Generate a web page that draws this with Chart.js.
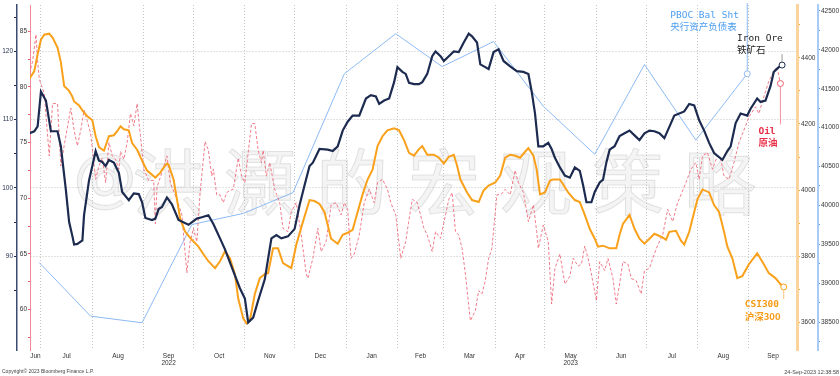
<!DOCTYPE html>
<html>
<head>
<meta charset="utf-8">
<script src="https://cdn.jsdelivr.net/npm/chart.js@4.4.0/dist/chart.umd.min.js"></script>
<style>
  html, body { margin: 0; padding: 0; background: #fff; }
  canvas { display: block; }
</style>
</head>
<body>
<canvas id="chart" width="840" height="376"></canvas>
<script>
// x values are days counted from 1 Jun 2022
var monthStarts = [30, 61, 92, 122, 153, 183, 214, 245, 273, 304, 334, 365, 395, 426, 457];
var monthNames = ['Jun', 'Jul', 'Aug', 'Sep', 'Oct', 'Nov', 'Dec', 'Jan', 'Feb', 'Mar', 'Apr', 'May', 'Jun', 'Jul', 'Aug', 'Sep'];
var yearUnder = { 3: '2022', 11: '2023' };
var xMin = 23.4, xMax = 486;

// Iron Ore (left outer axis)
var ironDays = [23,26,28,30,33,36,40,42,45,47, 49,50,52,55,56,59,61,63,65,67,
  69,71,74,77,79,83,86,89,91,93, 97,99,101,103,106,109,113,119,124,127,
  131,134,138,141,146,150,153,155,158,161, 165,169,172,175,179,183,186,189,192,194,
  198,203,206,209,212,215,218,222,226,229, 232,234,237,240,243,245,248,250,252,255,
  258,260,263,266,268,271,273,276,279,282, 285,288,290,293,295,298,300,303,306,309,
  313,317,321,324,326,328,330,333,336,338, 340,343,346,349,352,355,357,359,362,364,
  367,369,371,373,376,379,382,385,388,391, 394,397,400,403,406,408,410,412,415,418,
  421,424,427,430,433,436,441,444,446,449, 452,456,458,462,464,467,470,472,475,477];
var ironVals = [108.0,108.3,109.0,114.1,112.8,108.3,108.3,106.1,99.8,95.0,
  92.9,91.7,91.8,92.3,96.0,101.1,103.2,105.4,104.0,103.8,
  103.2,104.1,103.7,102.2,99.4,98.2,99.2,99.1,97.9,95.6,
  95.3,95.5,96.9,97.2,98.6,97.6,95.3,94.6,95.5,95.7,
  96.0,94.7,92.6,91.0,87.8,85.3,83.8,80.3,81.0,83.5,
  86.6,92.6,93.1,92.6,92.9,94.0,97.5,100.4,103.2,103.7,
  105.7,105.6,105.4,106.1,108.4,109.7,110.6,110.6,113.1,113.6,
  113.4,112.3,112.8,113.1,115.5,117.7,117.0,116.7,115.4,115.2,
  115.2,115.5,116.7,119.3,120.0,119.3,118.6,119.3,120.0,119.9,
  121.3,122.6,122.2,121.3,118.1,117.7,117.4,119.9,120.3,118.6,
  117.8,117.1,117.0,116.7,114.1,110.9,106.1,106.1,106.6,105.7,
  104.4,103.0,101.8,101.5,103.0,102.5,100.4,97.9,97.9,99.4,
  100.8,101.2,103.7,105.6,106.1,107.6,108.0,108.4,107.7,107.0,
  108.0,108.4,108.3,108.0,107.3,108.4,109.5,110.6,110.9,111.2,
  112.3,112.1,109.9,108.4,106.6,105.1,104.1,105.4,106.1,109.5,
  110.9,110.6,111.6,113.1,112.6,112.8,114.9,117.0,117.7,118.0];

// CSI300 (right inner axis)
var csiDays = [23,26,28,30,32,35,37,40,42,44, 47,49,50,53,55,58,61,63,65,68,
  71,74,76,78,80,83,85,88,91,94, 99,102,104,106,107,110,112,114,117,121,
  125,128,131,135,138,141,144,147,149,152, 154,156,159,162,165,167,170,173,176,179,
  181,184,188,192,195,198,201,205,209,212, 215,218,221,224,227,230,233,236,239,243,
  246,249,252,255,258,260,263,267,270,273, 276,279,281,283,287,290,294,297,300,304,
  307,310,313,316,319,322,324,327,329,331, 334,337,339,341,343,345,348,352,355,358,
  361,364,366,369,373,377,379,381,385,388, 391,394,397,400,404,407,409,413,416,418,
  421,424,426,429,433,436,439,442,444,447, 450,453,457,462,466,469,473,476,478];
var csiVals = [4336,4360,4411,4455,4470,4473,4461,4431,4387,4315,
  4300,4282,4268,4256,4241,4223,4211,4163,4130,4119,
  4163,4166,4178,4193,4184,4181,4142,4122,4089,4059,
  4038,4053,4068,4080,4077,4032,3973,3913,3874,3850,
  3829,3806,3785,3764,3785,3815,3794,3746,3672,3612,
  3597,3606,3686,3734,3746,3749,3824,3824,3779,3770,
  3764,3835,3904,3970,3967,3958,3934,3853,3838,3865,
  3871,3880,3934,3987,4032,4062,4133,4163,4181,4187,
  4181,4151,4113,4104,4124,4133,4107,4107,4098,4080,
  4101,4107,4074,4032,3993,3970,3964,3999,4014,4023,
  4044,4098,4107,4104,4098,4116,4127,4104,4062,3987,
  3993,4029,4032,4032,4032,4017,3993,3970,3964,3925,
  3883,3853,3829,3832,3824,3824,3865,3898,3925,3883,
  3853,3838,3853,3868,3859,3850,3874,3877,3847,3835,
  3874,3934,3973,4002,3993,3955,3934,3874,3829,3794,
  3734,3740,3776,3809,3776,3749,3734,3716,3707];

// Oil (left inner axis)
var oilDays = [23,25,27,28,29,32,35,37,40,42, 44,48,50,52,54,56,58,60,63,65,
  67,69,71,73,75,77,78,80,82,84, 86,88,90,92,95,98,99,100,103,106,
  108,112,115,117,118,120,122,124,126,129, 131,133,134,136,138,140,142,144,146,149,
  151,153,155,157,159,161,163,164,166,168, 171,174,176,179,181,184,187,190,191,194,
  197,199,202,205,208,211,213,215,217,219, 222,225,228,231,233,236,239,241,244,247,
  250,252,254,257,261,263,266,268,271,274, 276,278,280,282,284,286,289,292,294,296,
  298,300,302,305,308,310,313,316,318,321, 324,327,329,330,333,336,338,340,343,346,
  349,351,354,356,358,360,362,365,367,370, 372,375,377,379,381,384,386,389,392,394,
  397,399,402,405,408,411,414,416,419,422, 425,427,429,432,435,438,440,442,445,448,
  451,455,457,461,463,466,469,472,474,476];
var oilVals = [81.2,82.3,84.7,82.3,80.7,79.4,73.8,78.5,78.5,72.9,
  74.7,78.1,76.1,74.7,76.1,77.9,76.9,75.8,71.7,72.9,
  73.6,71.4,75.0,73.8,73.5,72.6,74.2,73.5,75.0,77.6,
  76.5,78.5,75.6,72.6,71.6,71.6,67.7,71.0,72.3,73.8,
  71.4,69.9,68.5,65.0,63.3,66.1,67.3,66.1,70.5,75.1,
  74.3,72.0,72.6,70.3,70.3,69.6,70.5,70.7,70.8,73.6,
  72.0,71.4,74.1,76.7,76.7,74.3,73.2,74.3,72.0,73.2,
  70.8,69.6,67.3,67.0,68.8,69.6,66.7,63.2,62.8,64.6,
  67.3,65.2,66.1,69.4,69.6,68.5,69.6,69.0,64.6,65.0,
  66.7,69.6,70.8,69.6,71.4,71.7,70.8,69.6,68.5,64.6,
  66.1,68.1,69.9,69.6,67.3,66.7,65.2,67.0,66.4,68.5,
  69.9,70.5,67.0,66.7,65.5,63.2,59.0,59.9,61.7,61.4,
  62.6,64.6,65.5,70.3,70.4,70.8,70.3,72.5,71.4,70.5,
  67.9,69.4,67.0,65.5,67.6,66.1,60.5,63.7,65.0,62.3,
  63.0,64.6,63.9,64.1,65.7,64.6,63.2,60.8,64.3,63.5,
  64.6,62.8,60.5,62.3,64.3,64.1,62.8,62.6,61.4,63.5,
  63.7,64.6,65.8,66.7,69.0,67.9,69.6,70.3,71.4,72.6,
  73.2,71.7,73.8,74.1,72.6,73.8,73.5,72.0,71.7,73.2,
  75.0,76.5,77.3,78.2,77.6,79.1,80.5,81.4,81.8,80.3];

// PBOC balance sheet, month ends (right outer axis)
var pbocDays = [29, 60, 91, 121, 152, 182, 213, 244, 272, 303, 333, 364, 394, 425, 456];
var pbocVals = [39264, 38576, 38491, 39754, 39897, 40164, 41693, 42208, 41785, 42107, 41275, 40658, 41811, 40840, 41693];

// axis ranges and ticks
var ironRange = [76.25, 126.8], ironTicks = [85, 90, 95, 100, 105, 110, 115, 120, 125];
var oilRange = [56.37, 87.35], oilTicks = [57.5, 60, 62.5, 65, 67.5, 70, 72.5, 75, 77.5, 80, 82.5, 85];
var csiRange = [3516.5, 4559.8], csiTicks = [3600, 3700, 3800, 3900, 4000, 4100, 4200, 4300, 4400, 4500];
var pbocRange = [38141, 42577], pbocTicks = [38250, 38500, 38750, 39000, 39250, 39500, 39750, 40000, 40250, 40500, 40750, 41000, 41250, 41500, 41750, 42000, 42250, 42500];

var NAVY = '#1c2b4f', ORANGE = '#f9a11b', RED = '#ee5a6c', BLUE = '#8dbaf3';
var tickFont = { family: '"Liberation Sans", Arial, sans-serif', size: 6.5 };

// month label ticks sit in the middle of each visible month
var edges = [xMin].concat(monthStarts, [xMax]);
var xTicks = [], xLabel = {};
monthStarts.forEach(function (d) { xTicks.push({ value: d }); });
for (var i = 0; i < monthNames.length; i++) {
  var mid = (edges[i] + edges[i + 1]) / 2;
  xTicks.push({ value: mid });
  xLabel[mid] = yearUnder[i] ? [monthNames[i], yearUnder[i]] : monthNames[i];
}
xTicks.sort(function (a, b) { return a.value - b.value; });
var isStart = function (v) { return monthStarts.indexOf(v) >= 0; };

function pts(days, vals) {
  return days.map(function (d, i) { return { x: d, y: vals[i] }; });
}
function endMarker(n) {
  return function (c) { return c.dataIndex === n - 1 ? 3 : 0; };
}
function fixedAxis(w) {
  return function (s) { s.width = w; s.paddingTop = 0; s.paddingBottom = 0; };
}

var decor = {
  id: 'decor',
  beforeDatasetsDraw: function (chart) {
    var ctx = chart.ctx;
    var chars = ['洪', '灝', '的', '宏', '观', '策', '略'];
    ctx.save();
    ctx.textAlign = 'center';
    ctx.textBaseline = 'middle';
    ctx.fillStyle = 'rgba(205,205,205,0.22)';
    ctx.strokeStyle = 'rgba(160,160,160,0.28)';
    ctx.lineWidth = 1;
    ctx.font = '64px "DejaVu Sans", sans-serif';
    ctx.fillText('@', 105, 182);
    ctx.strokeText('@', 105, 182);
    ctx.font = '72px "Noto Sans CJK SC", sans-serif';
    chars.forEach(function (ch, k) {
      ctx.fillText(ch, 168 + k * 92, 182);
      ctx.strokeText(ch, 168 + k * 92, 182);
    });
    ctx.restore();
  },
  afterDatasetsDraw: function (chart) {
    var ctx = chart.ctx;
    function last(idx) {
      var d = chart.getDatasetMeta(idx).data;
      return d[d.length - 1];
    }
    var iron = last(0), csi = last(1), oil = last(2), pboc = last(3);
    function vline(x, y1, y2, color) {
      ctx.beginPath();
      ctx.moveTo(x, y1);
      ctx.lineTo(x, y2);
      ctx.strokeStyle = color;
      ctx.lineWidth = 1;
      ctx.stroke();
    }
    ctx.save();
    vline(pboc.x, pboc.y - 3, 3, BLUE);
    vline(iron.x, iron.y - 3, iron.y - 11, '#9a9a9a');
    vline(oil.x, oil.y + 3, oil.y + 41, '#f6909c');
    vline(csi.x, csi.y + 3, csi.y + 12, '#fbc27a');

    ctx.textBaseline = 'middle';
    ctx.textAlign = 'left';
    function label(txt, cn, x, y, color, bold) {
      var w = bold ? 'bold ' : '';
      ctx.fillStyle = color;
      ctx.font = w + '9.5px "DejaVu Sans Mono", monospace';
      ctx.fillText(txt, x, y);
      ctx.font = w + '9.5px "Noto Sans CJK SC", sans-serif';
      ctx.fillText(cn, x, y + 11);
    }
    label('PBOC Bal Sht', '央行资产负债表', pboc.x - 77, pboc.y - 58, '#4b9df0', false);
    label('Iron Ore', '铁矿石', iron.x - 45, iron.y - 27, '#222222', false);
    label('Oil', '原油', oil.x - 22, oil.y + 48, '#ea3048', true);
    label('CSI300', '沪深300', csi.x - 39, csi.y + 18, '#f79a14', true);
    ctx.restore();
  },
  afterDraw: function (chart) {
    var ctx = chart.ctx;
    ctx.save();
    ctx.fillStyle = '#444';
    ctx.textBaseline = 'middle';
    ctx.font = '5px "Liberation Sans", Arial, sans-serif';
    ctx.textAlign = 'left';
    ctx.fillText('Copyright\u00A9 2023 Bloomberg Finance L.P.', 2, 372);
    ctx.font = '5.5px "Liberation Sans", Arial, sans-serif';
    ctx.textAlign = 'right';
    ctx.fillText('24-Sep-2023 12:38:58', 839, 372);
    ctx.restore();
  }
};

var chart = new Chart(document.getElementById('chart'), {
  type: 'line',
  data: {
    datasets: [
      { label: 'Iron Ore', data: pts(ironDays, ironVals), yAxisID: 'yIron',
        borderColor: NAVY, borderWidth: 2.2, pointRadius: endMarker(ironDays.length),
        pointBackgroundColor: '#fff', pointBorderColor: NAVY, pointBorderWidth: 1 },
      { label: 'CSI300', data: pts(csiDays, csiVals), yAxisID: 'yCsi',
        borderColor: ORANGE, borderWidth: 2, pointRadius: endMarker(csiDays.length),
        pointBackgroundColor: '#fff', pointBorderColor: ORANGE, pointBorderWidth: 1 },
      { label: 'Oil', data: pts(oilDays, oilVals), yAxisID: 'yOil',
        borderColor: RED, borderWidth: 0.8, borderDash: [3, 2], pointRadius: endMarker(oilDays.length),
        pointBackgroundColor: '#fff', pointBorderColor: RED, pointBorderWidth: 1 },
      { label: 'PBOC Bal Sht', data: pts(pbocDays, pbocVals), yAxisID: 'yPboc',
        borderColor: BLUE, borderWidth: 1, pointRadius: endMarker(pbocDays.length),
        pointBackgroundColor: '#fff', pointBorderColor: BLUE, pointBorderWidth: 1 }
    ]
  },
  options: {
    responsive: false,
    animation: false,
    devicePixelRatio: 1,
    layout: { padding: 0 },
    elements: { line: { tension: 0 } },
    plugins: { legend: { display: false }, tooltip: { enabled: false } },
    scales: {
      x: {
        type: 'linear', min: xMin, max: xMax,
        afterBuildTicks: function (s) { s.ticks = xTicks.map(function (t) { return { value: t.value }; }); },
        afterFit: function (s) { s.height = 26; s.paddingLeft = 0; s.paddingRight = 0; },
        ticks: { autoSkip: false, maxRotation: 0, padding: 2, font: tickFont, color: '#333',
          callback: function (v) { return xLabel[v] || ''; } },
        grid: { drawTicks: false, lineWidth: 1,
          color: function (c) { return c.tick && isStart(c.tick.value) ? '#c4c4c4' : 'rgba(0,0,0,0)'; } },
        border: { display: false, dash: [1, 2] }
      },
      yIron: {
        type: 'linear', position: 'left', weight: 1, min: ironRange[0], max: ironRange[1],
        afterBuildTicks: function (s) { s.ticks = ironTicks.map(function (v) { return { value: v }; }); },
        afterFit: fixedAxis(17),
        ticks: { padding: 1, font: tickFont, color: '#2a3553',
          callback: function (v) { return v % 10 === 0 ? v : ''; } },
        grid: { tickLength: 3, tickColor: NAVY, lineWidth: 1,
          color: function (c) { return c.tick && c.tick.value % 10 === 0 ? '#c4c4c4' : 'rgba(0,0,0,0)'; } },
        border: { color: '#3a4a70', width: 1.5, dash: [1, 2] }
      },
      yOil: {
        type: 'linear', position: 'left', weight: 0, min: oilRange[0], max: oilRange[1],
        afterBuildTicks: function (s) { s.ticks = oilTicks.map(function (v) { return { value: v }; }); },
        afterFit: fixedAxis(13),
        ticks: { padding: 1, font: tickFont, color: '#333',
          callback: function (v) { return v % 5 === 0 ? v : ''; } },
        grid: { drawOnChartArea: false, tickLength: 2, tickColor: RED },
        border: { color: '#f58a96', width: 1 }
      },
      yCsi: {
        type: 'linear', position: 'right', weight: 0, min: csiRange[0], max: csiRange[1],
        afterBuildTicks: function (s) { s.ticks = csiTicks.map(function (v) { return { value: v }; }); },
        afterFit: fixedAxis(21),
        ticks: { padding: 1, font: tickFont, color: '#333',
          callback: function (v) { return v % 200 === 0 ? v : ''; } },
        grid: { drawOnChartArea: false, tickLength: 3, tickColor: ORANGE },
        border: { color: '#fbd39c', width: 3 }
      },
      yPboc: {
        type: 'linear', position: 'right', weight: 1, min: pbocRange[0], max: pbocRange[1],
        afterBuildTicks: function (s) { s.ticks = pbocTicks.map(function (v) { return { value: v }; }); },
        afterFit: fixedAxis(22),
        ticks: { padding: 1, font: tickFont, color: '#333',
          callback: function (v) { return v % 500 === 0 ? v : ''; } },
        grid: { drawOnChartArea: false, tickLength: 2, tickColor: '#4b9df0' },
        border: { color: '#a6cbf7', width: 2 }
      }
    }
  },
  plugins: [decor]
});
</script>
</body>
</html>
